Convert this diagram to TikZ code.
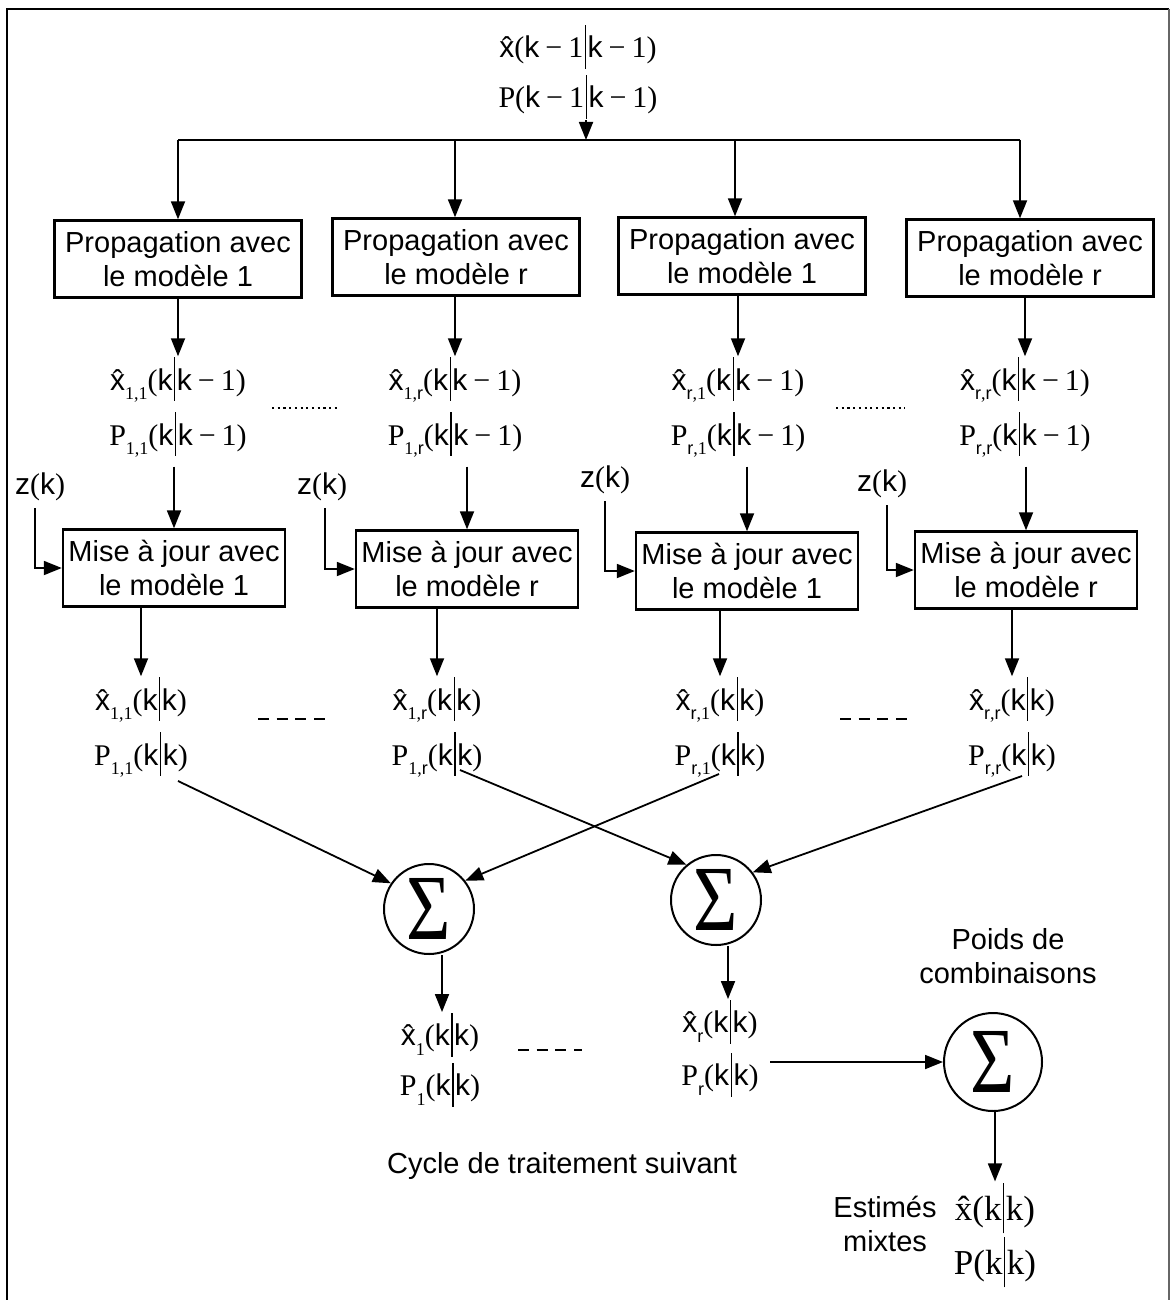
\documentclass[tikz,border=0pt]{standalone}
\usepackage{fontspec}
\usepackage{graphicx}
\setmainfont{Liberation Sans}
\newfontfamily\tms{Liberation Serif}
\newfontfamily\arl{Liberation Sans}
\usetikzlibrary{arrows.meta}

% pieces of the estimate labels
\newcommand\vb{\kern1.5pt\rule[-0.36em]{1.4pt}{1.45em}\kern1.5pt}
\newcommand\mn{\kern0.2em{\tms\char"2212}\kern0.2em}
\newcommand\xh{\leavevmode\hbox{\ooalign{\arl x\cr\hidewidth\tms\char"02C6\hidewidth\cr}}}
\newcommand\xht{\leavevmode\hbox{\ooalign{\tms x\cr\hidewidth\tms\char"02C6\hidewidth\cr}}}
\newcommand\sbs[1]{\raisebox{-0.32em}{\fontsize{18}{18}\selectfont #1}}
\newcommand\kk{{\tms(}{\arl k}\vb{\arl k}{\tms)}}
\newcommand\kkm{{\tms(}{\arl k}\vb{\arl k}\mn{\tms 1}{\tms)}}
\newcommand\zk{{\arl z}{\tms(}{\arl k}{\tms)}}
\newcommand\sg{\scalebox{1.03}[1.26]{\tms Σ}}

\begin{document}
\begin{tikzpicture}[x=1pt,y=-1pt,
  every node/.style={font=\fontsize{29}{34}\selectfont},
  arr/.style={line width=1.8pt,-{Triangle[width=14pt,length=18pt]}},
  ln/.style={line width=1.8pt},
  dsh/.style={line width=2.4pt,dash pattern=on 11pt off 7.7pt},
  dts/.style={line width=1.6pt,dash pattern=on 2.2pt off 3.5pt},
  boxe/.style={draw,line width=2.4pt,minimum width=247pt,minimum height=77pt,
               align=center,inner sep=0pt},
  mbox/.style={boxe,minimum width=222pt},
  lbl/.style={inner sep=1pt,font=\fontsize{30}{30}\selectfont},
  big/.style={inner sep=1pt,font=\fontsize{35}{35}\selectfont},
  sig/.style={draw,circle,line width=2pt,minimum size=90pt,inner sep=0pt,
              font=\fontsize{74}{74}\selectfont},
]
\useasboundingbox (0,0) rectangle (1171,1300);
% frame
\draw[line width=2pt] (7,1300) -- (7,9) -- (1169,9);
\draw[line width=2pt,black!60] (1169,9) -- (1169,1300);

% previous estimate
\node[lbl] (xt) at (578,47) {\xh{\tms(}{\arl k}\mn{\tms 1}\vb{\arl k}\mn{\tms 1}{\tms)}};
\node[lbl] (pt) at (578,97) {{\tms P(}{\arl k}\mn{\tms 1}\vb{\arl k}\mn{\tms 1}{\tms)}};
\coordinate (busin) at (586,140);
\coordinate (b1) at (178,140);
\coordinate (b2) at (455,140);
\coordinate (b3) at (735,140);
\coordinate (b4) at (1020,140);
\draw[arr] (pt.south -| busin) -- (busin);
\draw[ln] (b1) -- (b4);

% propagation boxes
\node[boxe] (P1) at (178,259) {Propagation avec\\le modèle 1};
\node[boxe] (P2) at (456,257) {Propagation avec\\le modèle r};
\node[boxe] (P3) at (742,256) {Propagation avec\\le modèle 1};
\node[boxe] (P4) at (1030,258) {Propagation avec\\le modèle r};
\foreach \b/\p in {b1/P1,b2/P2,b3/P3,b4/P4}
  \draw[arr] (\b) -- (\b |- \p.north);

% predicted estimates
\node[lbl] (a1) at (178,380) {\xh\sbs{\tms 1,1}\kkm};
\node[lbl] (q1) at (178,435) {{\tms P}\sbs{\tms 1,1}\kkm};
\node[lbl] (a2) at (455,380) {\xh\sbs{\tms 1,\arl r}\kkm};
\node[lbl] (q2) at (455,435) {{\tms P}\sbs{\tms 1,\arl r}\kkm};
\node[lbl] (a3) at (738,380) {\xh\sbs{\arl r\tms ,1}\kkm};
\node[lbl] (q3) at (738,435) {{\tms P}\sbs{\arl r\tms ,1}\kkm};
\node[lbl] (a4) at (1025,380) {\xh\sbs{\arl r\tms ,\arl r}\kkm};
\node[lbl] (q4) at (1025,435) {{\tms P}\sbs{\arl r\tms ,\arl r}\kkm};
\foreach \p/\a in {P1/a1,P2/a2,P3/a3,P4/a4}
  \draw[arr] (\p.south -| \a) -- (\a.north);
\draw[dts] (272,408) -- (340,408);
\draw[dts] (836,408) -- (905,408);

% update boxes
\node[mbox] (M1) at (174,568) {Mise à jour avec\\le modèle 1};
\node[mbox] (M2) at (467,569) {Mise à jour avec\\le modèle r};
\node[mbox] (M3) at (747,571) {Mise à jour avec\\le modèle 1};
\node[mbox] (M4) at (1026,570) {Mise à jour avec\\le modèle r};
\foreach \q/\m in {q1/M1,q2/M2,q3/M3,q4/M4}
  \draw[arr] ([yshift=-8pt]\q.south -| \m.north) -- (\m.north);

% measurements
\node[lbl] (z1) at (40,487) {\zk};
\node[lbl] (z2) at (322,487) {\zk};
\node[lbl] (z3) at (605,480) {\zk};
\node[lbl] (z4) at (882,484) {\zk};
\draw[arr] ([xshift=-5pt,yshift=-6pt]z1.south) |- (M1.west);
\draw[arr] ([xshift=3pt,yshift=-6pt]z2.south) |- (M2.west);
\draw[arr] ([xshift=0pt,yshift=-6pt]z3.south) |- (M3.west);
\draw[arr] ([xshift=5pt,yshift=-6pt]z4.south) |- (M4.west);

% updated estimates
\node[lbl] (c1) at (141,700) {\xh\sbs{\tms 1,1}\kk};
\node[lbl] (d1) at (141,755) {{\tms P}\sbs{\tms 1,1}\kk};
\node[lbl] (c2) at (437,700) {\xh\sbs{\tms 1,\arl r}\kk};
\node[lbl] (d2) at (437,755) {{\tms P}\sbs{\tms 1,\arl r}\kk};
\node[lbl] (c3) at (720,700) {\xh\sbs{\arl r\tms ,1}\kk};
\node[lbl] (d3) at (720,755) {{\tms P}\sbs{\arl r\tms ,1}\kk};
\node[lbl] (c4) at (1012,700) {\xh\sbs{\arl r\tms ,\arl r}\kk};
\node[lbl] (d4) at (1012,755) {{\tms P}\sbs{\arl r\tms ,\arl r}\kk};
\foreach \m/\c in {M1/c1,M2/c2,M3/c3,M4/c4}
  \draw[arr] (\m.south -| \c) -- (\c.north);
\draw[dsh] (258,719) -- (325,719);
\draw[dsh] (840,719) -- (908,719);

% summations per model
\node[sig] (S1) at (429,909) {\sg};
\node[sig] (S2) at (716,900) {\sg};
\coordinate (s1) at (178,781);
\coordinate (s2) at (719,774);
\coordinate (s3) at (460,770);
\coordinate (s4) at (1022,776);
\draw[arr] (s1) -- (S1.146);
\draw[arr] (s2) -- (S1.38);
\draw[arr] (s3) -- (S2.130);
\draw[arr] (s4) -- (S2.37);

\node[lbl] (e1) at (440,1035) {\xh\sbs{\tms 1}\kk};
\node[lbl] (f1) at (440,1085) {{\tms P}\sbs{\tms 1}\kk};
\node[lbl] (e2) at (720,1022) {\xh\sbs{\arl r}\kk};
\node[lbl] (f2) at (720,1075) {{\tms P}\sbs{\arl r}\kk};
\draw[arr] ([xshift=13pt]S1.south) -- ([xshift=13pt]S1.south |- e1.north);
\draw[arr] ([xshift=12pt]S2.south) -- ([xshift=12pt]S2.south |- e2.north);
\draw[dsh] (518,1050) -- (582,1050);

% combination
\node[sig,minimum size=98pt] (S3) at (993,1062) {\sg};
\node[align=center] (pw) at (1008,956) {Poids de\\combinaisons};
\coordinate (r1) at (770,1062);
\draw[arr] (r1) -- (r1 -| S3.west);

\node[big] (xf) at (995,1208) {\xht{\tms (k}\vb{\tms k)}};
\node[big] (pf) at (995,1262) {{\tms P(k}\vb{\tms k)}};
\draw[arr] ([xshift=2pt]S3.south) -- ([xshift=2pt]S3.south |- xf.north);
\node[align=center] (em) at (885,1224) {Estimés\\mixtes};

\node (cy) at (562,1166) {Cycle de traitement suivant};
\end{tikzpicture}
\end{document}
